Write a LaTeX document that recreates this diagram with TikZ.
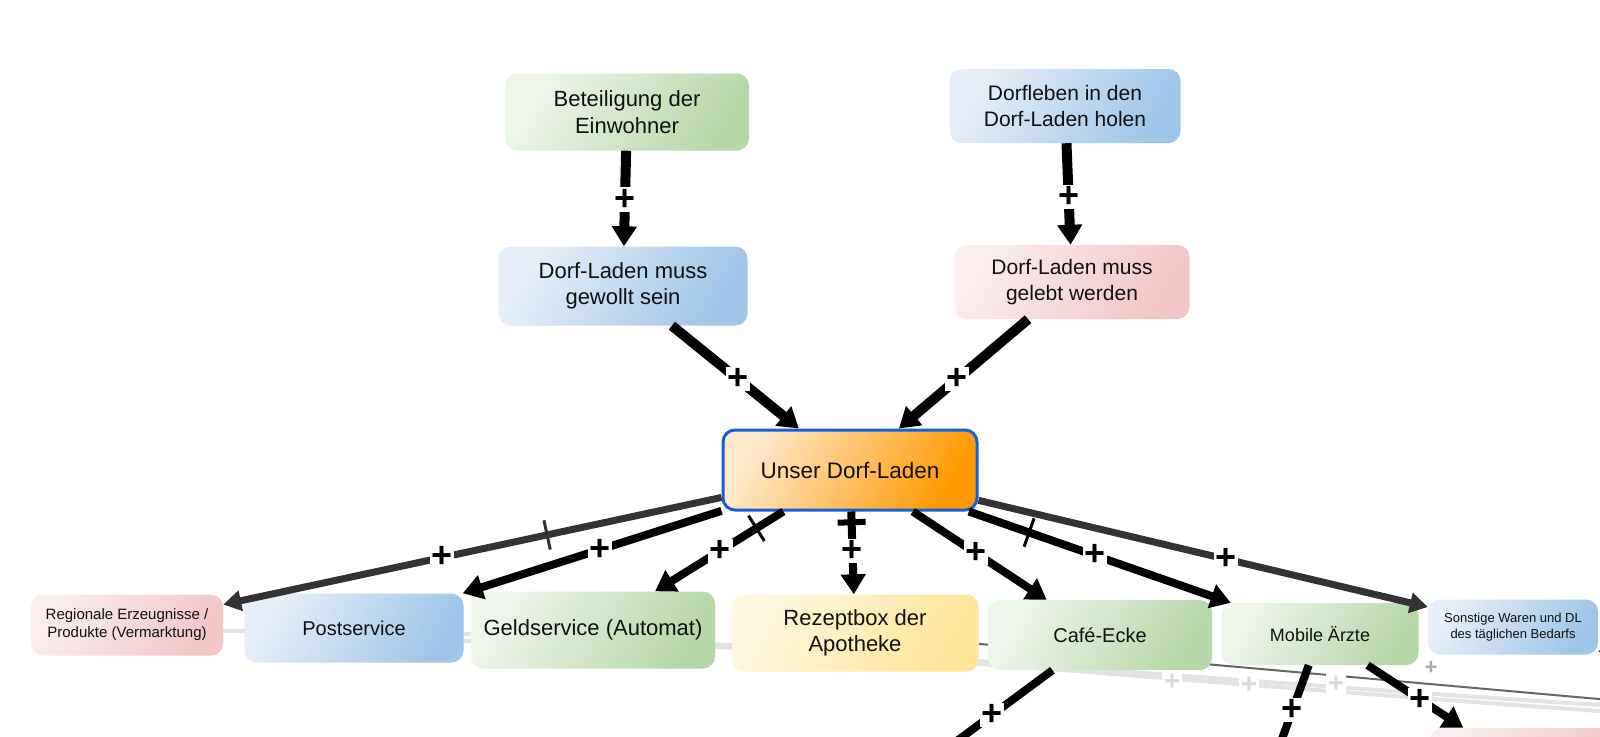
\documentclass[tikz,border=0pt]{standalone}
\usepackage{fontspec}
\setmainfont{Liberation Sans}
\usetikzlibrary{arrows.meta, positioning, backgrounds, decorations.markings}
\definecolor{boxgreen}{HTML}{B6D7A8}
\definecolor{boxgreenlt}{HTML}{EEF6EB}
\definecolor{boxblue}{HTML}{9FC5E8}
\definecolor{boxbluelt}{HTML}{E6EFF9}
\definecolor{boxpink}{HTML}{F2C6C6}
\definecolor{boxpinklt}{HTML}{FBEDED}
\definecolor{boxyellow}{HTML}{FFE599}
\definecolor{boxyellowlt}{HTML}{FFF7E0}
\definecolor{ladenorange}{HTML}{FF9900}
\definecolor{ladenlt}{HTML}{FFE9CC}
\definecolor{ladenborder}{HTML}{1560D8}
\definecolor{edgegray}{HTML}{333333}
\definecolor{fadedgray}{HTML}{E3E3E3}
\definecolor{thingray}{HTML}{666666}
\definecolor{textdark}{HTML}{111111}

\begin{document}
\begin{tikzpicture}[x=1pt, y=-1pt,
    box/.style={rounded corners=12pt, align=center, text=textdark, inner sep=0pt},
    greenbox/.style={box, left color=boxgreenlt, right color=boxgreen, shading angle=60},
    bluebox/.style={box, left color=boxbluelt, right color=boxblue, shading angle=60},
    pinkbox/.style={box, left color=boxpinklt, right color=boxpink, shading angle=60},
    yellowbox/.style={box, left color=boxyellowlt, right color=boxyellow, shading angle=60},
    ladenbox/.style={box, left color=ladenlt, right color=ladenorange, shading angle=60,
      draw=ladenborder, line width=3pt},
    fs/.style={font=\fontsize{#1pt}{\dimexpr #1pt*6/5\relax}\selectfont},
    link/.style={line width=8pt, -{Triangle[width=24pt,length=20pt]}},
    biglink/.style={link, line width=10pt},
    greylink/.style={link, color=edgegray, line width=7pt, -{Triangle[width=20pt,length=18pt]}},
    faded/.style={draw=fadedgray, line width=4pt},
    plus/.style={fill=white, inner sep=1.5pt, text=black, font=\fontsize{36pt}{36pt}\selectfont\bfseries},
    fadedplus/.style={plus, text=black!15, font=\fontsize{28pt}{28pt}\selectfont\bfseries},
    delay/.style={postaction={decorate, decoration={markings,
      mark=at position #1 with {\draw[line width=3pt, -] (0,-15pt) -- (0,15pt);}}}},
    bardelay/.style={postaction={decorate, decoration={markings,
      mark=at position #1 with {\draw[line width=6pt, -] (0,-14pt) -- (0,14pt);}}}}]
  \useasboundingbox (0,0) rectangle (1600,736);

  \node[greenbox, fs=22, minimum width=244pt, minimum height=77pt] (bet) at (627,112) {Beteiligung der\\Einwohner};
  \node[bluebox, fs=21, minimum width=231pt, minimum height=74pt] (dorfl) at (1065,106) {Dorfleben in den\\Dorf-Laden holen};
  \node[bluebox, fs=22, minimum width=249pt, minimum height=79pt] (gewollt) at (623,286) {Dorf-Laden muss\\gewollt sein};
  \node[pinkbox, fs=21, minimum width=235pt, minimum height=74pt] (gelebt) at (1072,282) {Dorf-Laden muss\\gelebt werden};
  \node[ladenbox, fs=22.5, minimum width=254pt, minimum height=80pt] (laden) at (850,470) {Unser Dorf-Laden};

  \node[pinkbox, fs=15, minimum width=192pt, minimum height=61pt] (reg) at (127,625) {Regionale Erzeugnisse /\\Produkte (Vermarktung)};
  \node[bluebox, fs=20, minimum width=219pt, minimum height=69pt] (post) at (354,628) {Postservice};
  \node[greenbox, fs=22, minimum width=244pt, minimum height=77pt] (geld) at (593,630) {Geldservice (Automat)};
  \node[yellowbox, fs=22, minimum width=247pt, minimum height=77pt] (rez) at (855,633) {Rezeptbox der\\Apotheke};
  \node[greenbox, fs=20, minimum width=224pt, minimum height=70pt] (cafe) at (1100,635) {Café-Ecke};
  \node[greenbox, fs=18, minimum width=197pt, minimum height=62pt] (mobil) at (1320,634) {Mobile Ärzte};
  \node[bluebox, fs=13, minimum width=170pt, minimum height=55pt] (sonst) at (1513,627) {Sonstige Waren und DL\\des täglichen Bedarfs};
  \node[pinkbox, minimum width=180pt, minimum height=74pt] (nextbox) at (1520,765) {};

  \coordinate (fadeA) at (1600,705);
  \coordinate (fadeB) at (1600,711);
  \coordinate (rezOut) at (1700,708);
  \coordinate (cafeDn) at (850,820);
  \coordinate (mobilDn) at (1270,772);
  \coordinate (sonstIn) at (1660,668);

  \begin{scope}[on background layer]
    \draw[faded] ([yshift=-6pt]reg.east) .. controls (700,630) and (1050,670) .. (fadeA);
    \draw[faded] ([yshift=-13pt]post.east) .. controls (800,641) and (1080,675) .. (fadeB);
    \draw[thingray, line width=2pt] (rez) -- (rezOut);
    \node[fadedplus] (fp1) at (1172,682) {+};
    \node[fadedplus] (fp2) at (1249,685) {+};
    \node[fadedplus] (fp3) at (1336,684) {+};
    \node[fadedplus, text=black!35, font=\fontsize{22pt}{22pt}\selectfont\bfseries] (fp4) at (1431,668) {+};
  \end{scope}

  \draw[biglink] (bet) -- node[plus, pos=0.51] {+} (gewollt);
  \draw[biglink] (dorfl) -- node[plus, pos=0.53] {+} (gelebt);
  \draw[biglink] (gewollt) -- node[plus, pos=0.52] {+} (laden);
  \draw[biglink] (gelebt) -- node[plus, pos=0.55] {+} (laden);

  \draw[greylink, delay=0.35] (laden) -- node[plus, pos=0.56] {+} (reg);
  \draw[link] (laden) -- node[plus, pos=0.47] {+} (post);
  \draw[link, delay=0.21] (laden) -- node[plus, pos=0.49] {+} (geld);
  \draw[link, bardelay=0.13] (laden) -- node[plus, pos=0.48] {+} (rez);
  \draw[link] (laden) -- node[plus, pos=0.47] {+} (cafe);
  \draw[link, delay=0.23] (laden) -- node[plus, pos=0.48] {+} (mobil);
  \draw[greylink] (laden) -- node[plus, pos=0.55] {+} (sonst);

  \draw[link] (cafe) -- node[plus, pos=0.3] {+} (cafeDn);
  \draw[link] (mobil) -- node[plus, pos=0.42] {+} (mobilDn);
  \draw[link] (mobil) -- node[plus, pos=0.55] {+} (nextbox);
  \draw[link] (sonstIn) -- (sonst);
\end{tikzpicture}
\end{document}
